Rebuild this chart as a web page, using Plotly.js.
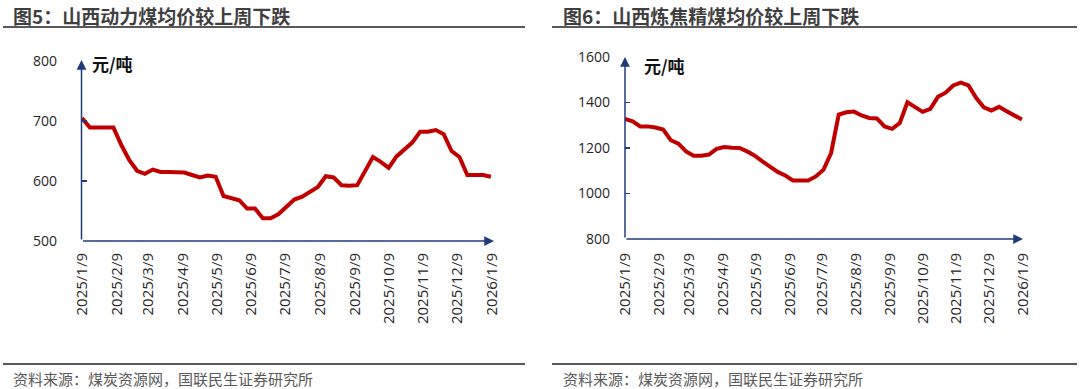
<!DOCTYPE html>
<html><head><meta charset="utf-8">
<script src="https://cdn.plot.ly/plotly-3.0.1.min.js"></script>
<style>html,body{margin:0;padding:0;background:#fff}</style>
</head><body><div id="chart" style="width:1080px;height:389px"></div>
<script>
const dates = ['2025-01-09','2025-01-16','2025-01-23','2025-01-30','2025-02-06','2025-02-13','2025-02-20','2025-02-27',
 '2025-03-06','2025-03-13','2025-03-20','2025-03-27','2025-04-03','2025-04-10','2025-04-17','2025-04-24',
 '2025-05-01','2025-05-08','2025-05-15','2025-05-22','2025-05-29','2025-06-05','2025-06-12','2025-06-19','2025-06-26',
 '2025-07-03','2025-07-10','2025-07-17','2025-07-24','2025-07-31','2025-08-07','2025-08-14','2025-08-21','2025-08-28',
 '2025-09-04','2025-09-11','2025-09-18','2025-09-25','2025-10-02','2025-10-09','2025-10-16','2025-10-23','2025-10-30',
 '2025-11-06','2025-11-13','2025-11-20','2025-11-27','2025-12-04','2025-12-11','2025-12-18','2025-12-25','2026-01-01','2026-01-08'];
const thermalCoal = [705,689,689,689,689,660,635,617,612,619,615,615,614,614,610,606,609,607,575,572,568,554,554,538,538,545,558,569,574,582,590,608,606,593,592,593,615,640,632,622,641,653,664,682,682,685,678,650,640,610,610,610,607];
const cokingCoal = [1328,1317,1295,1295,1290,1281,1234,1219,1185,1166,1166,1171,1196,1204,1201,1200,1185,1166,1141,1119,1095,1079,1057,1057,1057,1075,1104,1178,1347,1357,1360,1343,1332,1330,1295,1284,1310,1401,1381,1359,1372,1425,1443,1475,1487,1475,1421,1379,1365,1381,1362,1343,1325];
const tickVals = ['2025-01-09','2025-02-09','2025-03-09','2025-04-09','2025-05-09','2025-06-09','2025-07-09','2025-08-09','2025-09-09','2025-10-09','2025-11-09','2025-12-09','2026-01-09'];
const tickText = ['2025/1/9','2025/2/9','2025/3/9','2025/4/9','2025/5/9','2025/6/9','2025/7/9','2025/8/9','2025/9/9','2025/10/9','2025/11/9','2025/12/9','2026/1/9'];
const leftY = [500,600,700,800];
const rightY = [800,1000,1200,1400,1600];
const titleLeft = '图5：山西动力煤均价较上周下跌';
const titleRight = '图6：山西炼焦精煤均价较上周下跌';
const unitText = '元/吨';
const sourceText = '资料来源：煤炭资源网，国联民生证券研究所';

const W = 1080, H = 389;
const px = x => x / W;
const py = y => 1 - y / H;
const RED = '#C00000', AX = '#1F3C7A', TXT = '#262626', GRAY = '#595959';
const CJK = '"Noto Sans CJK SC", "Noto Sans", sans-serif';
const NUM = '"Open Sans", "Noto Sans", sans-serif';

const traces = [
  {x: dates, y: thermalCoal, xaxis: 'x', yaxis: 'y', type: 'scatter', mode: 'lines', line: {color: RED, width: 4}, hoverinfo: 'skip'},
  {x: dates, y: cokingCoal, xaxis: 'x2', yaxis: 'y2', type: 'scatter', mode: 'lines', line: {color: RED, width: 4}, hoverinfo: 'skip'}
];

function xa(domain) {
  return {domain: domain, type: 'date', range: ['2025-01-09', '2026-01-09'], tickmode: 'array', tickvals: tickVals, ticktext: tickText,
    tickangle: -90, showgrid: false, zeroline: false, showline: false, ticks: '', ticklabelstandoff: 8,
    tickfont: {family: NUM, size: 15, color: TXT}, fixedrange: true};
}
function ya(domain, range, vals, anchor, standoff) {
  return {domain: domain, range: range, tickmode: 'array', tickvals: vals, anchor: anchor, showgrid: false, zeroline: false, showline: false,
    ticks: 'inside', ticklen: 5, tickcolor: AX, tickwidth: 1.2, ticklabelstandoff: standoff,
    tickfont: {family: NUM, size: 14, color: TXT}, fixedrange: true};
}

const arrow = (x0, y0, x1, y1) => ({xref: 'paper', yref: 'paper', x: px(x1), y: py(y1), ax: x0 - x1, ay: y0 - y1,
  axref: 'pixel', ayref: 'pixel', text: '', showarrow: true, arrowhead: 2, arrowsize: 1.3, arrowwidth: 1.5, arrowcolor: AX, standoff: 0, startstandoff: 0});

const note = (x, y, text, size, color, bold) => ({xref: 'paper', yref: 'paper', x: px(x), y: py(y), xanchor: 'left', yanchor: 'middle',
  showarrow: false, borderpad: 0, text: bold ? '<b>' + text + '</b>' : text, font: {family: CJK, size: size, color: color}});

const layout = {
  width: W, height: H, margin: {l: 0, r: 0, t: 0, b: 0}, paper_bgcolor: '#fff', plot_bgcolor: 'rgba(0,0,0,0)', showlegend: false,
  xaxis: xa([px(82), px(492)]),
  yaxis: ya([py(241), py(61)], [500, 800], leftY, 'x', 24),
  xaxis2: xa([px(625), px(1023)]),
  yaxis2: ya([py(239), py(57)], [800, 1600], rightY, 'x2', 14),
  shapes: [
    {type: 'line', xref: 'paper', yref: 'paper', x0: px(3), x1: px(525), y0: py(27), y1: py(27), line: {color: GRAY, width: 2}},
    {type: 'line', xref: 'paper', yref: 'paper', x0: px(552), x1: px(1077), y0: py(27), y1: py(27), line: {color: GRAY, width: 2}},
    {type: 'line', xref: 'paper', yref: 'paper', x0: px(3), x1: px(525), y0: py(364), y1: py(364), line: {color: GRAY, width: 2}},
    {type: 'line', xref: 'paper', yref: 'paper', x0: px(552), x1: px(1077), y0: py(364), y1: py(364), line: {color: GRAY, width: 2}}
  ],
  annotations: [
    note(12, 15, titleLeft, 19, '#3F3F3F', true),
    note(562, 15, titleRight, 19, '#3F3F3F', true),
    note(91, 64, unitText, 17, '#111', true),
    note(643, 65, unitText, 17, '#111', true),
    note(12, 378, sourceText, 15, GRAY, false),
    note(562, 378, sourceText, 15, GRAY, false),
    arrow(81.5, 241, 494, 241),
    arrow(81.5, 241, 81.5, 60),
    arrow(625, 239, 1023, 239),
    arrow(625, 239, 625, 57)
  ]
};
Plotly.newPlot('chart', traces, layout, {staticPlot: true, displayModeBar: false});
</script></body></html>
